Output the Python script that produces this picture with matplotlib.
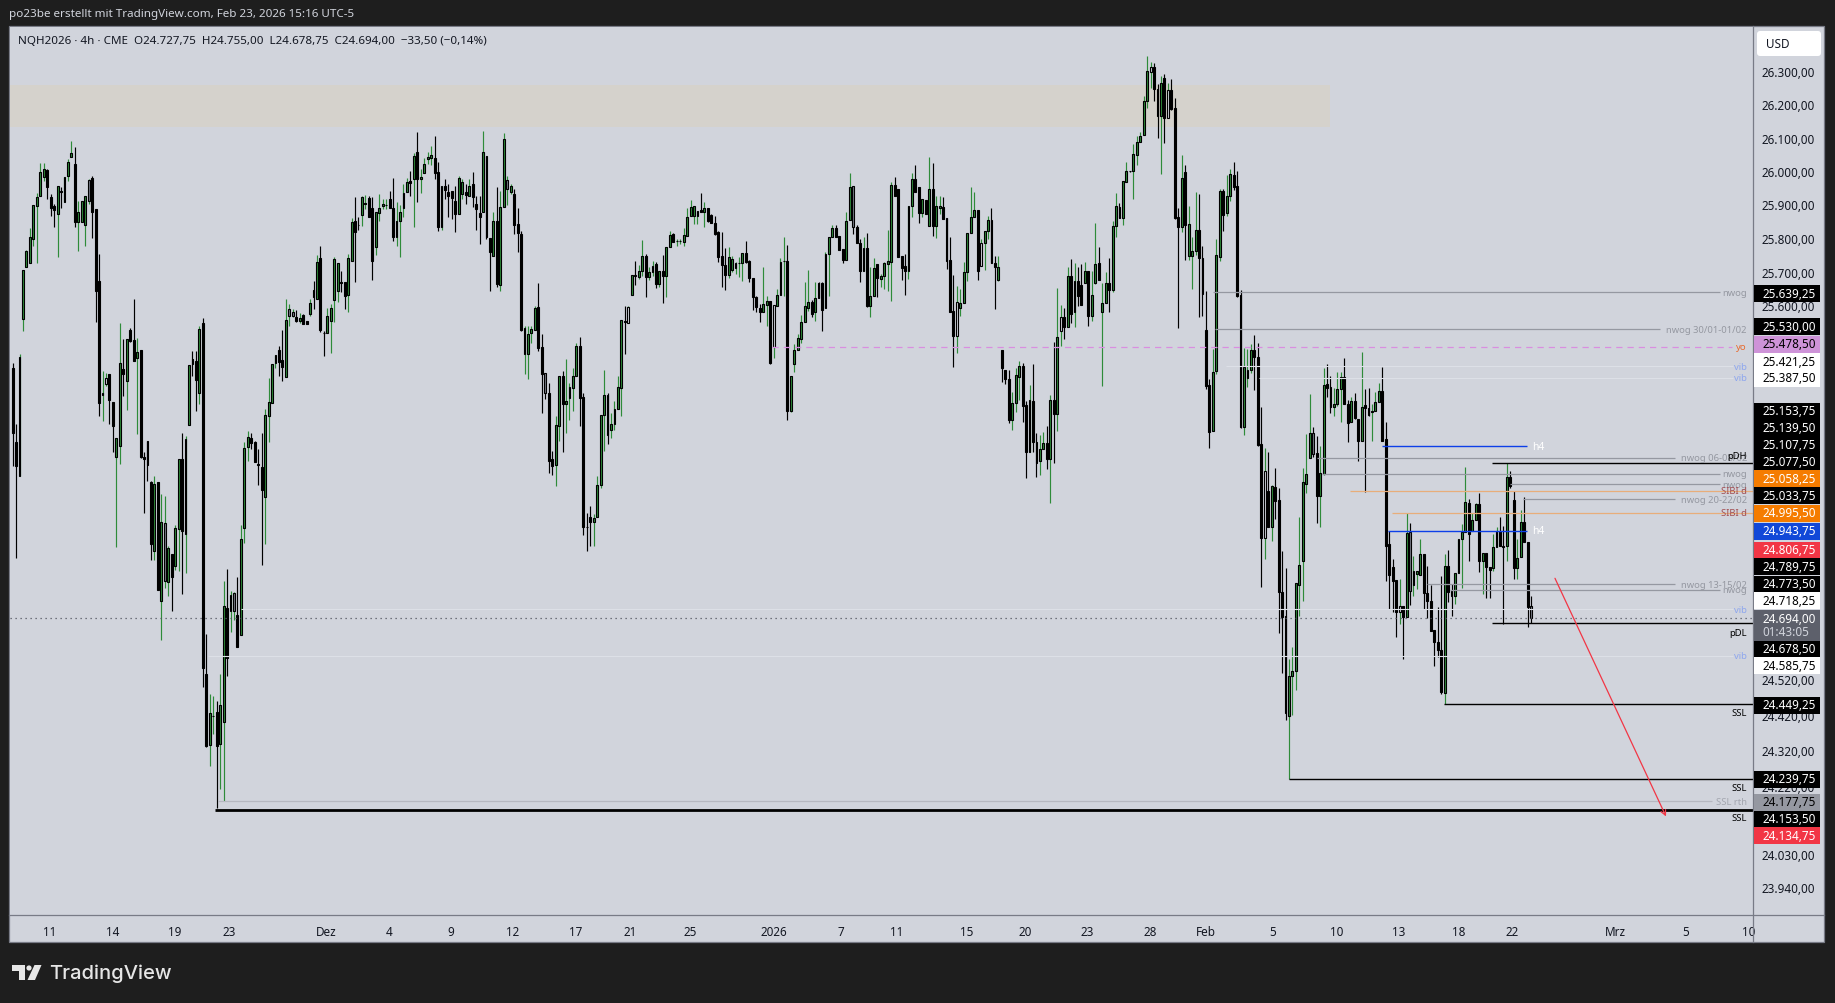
import numpy as np
import matplotlib
matplotlib.use("Agg")
import matplotlib.pyplot as plt
from matplotlib.patches import Rectangle, FancyBboxPatch, Polygon, Circle
from matplotlib.collections import LineCollection
from matplotlib.ticker import NullLocator, FixedLocator, FixedFormatter

plt.rcParams['font.family'] = ['Noto Sans', 'DejaVu Sans']

# ---------- candle data (4h NQH2026) ----------
body_high = [
25416,25201,25448,25705,25762,25803,25899,25923,25997,26006,
26003,25923,25896,25955,25940,25982,26027,26054,26021,25878,
25911,25925,25973,25979,25887,25672,25343,25387,25399,25317,
25210,25431,25413,25501,25528,25498,25463,25469,25155,25204,
25085,25079,25085,24969,24966,24894,24877,24952,25149,25149,
25207,25425,25442,25436,25531,25548,24535,24423,24417,24428,
24448,24728,24723,24760,24765,24703,24920,25181,25213,25210,
25199,25135,25126,25277,25317,25428,25454,25469,25439,25557,
25590,25581,25566,25563,25572,25554,25607,25646,25729,25741,
25519,25569,25593,25738,25726,25669,25669,25741,25848,25851,
25839,25923,25903,25920,25890,25878,25890,25902,25899,25917,
25890,25851,25878,25934,25967,25970,26045,26057,25982,26021,
26042,26048,26039,25997,25955,25955,25937,25940,25911,25979,
25967,25937,25955,25961,25902,25875,26057,26045,25800,25851,
25851,25893,26096,25973,25955,25932,25842,25812,25534,25516,
25531,25593,25596,25478,25402,25343,25149,25248,25393,25393,
25320,25361,25393,25481,25481,25332,24955,24984,24981,25076,
25277,25338,25338,25251,25297,25361,25557,25554,25596,25690,
25690,25702,25747,25747,25699,25717,25723,25702,25702,25774,
25809,25812,25791,25791,25809,25863,25893,25896,25881,25884,
25890,25890,25869,25845,25818,25747,25720,25744,25738,25726,
25726,25756,25756,25732,25681,25625,25593,25604,25613,25613,
25601,25631,25729,25732,25732,25393,25469,25504,25551,25599,
25610,25610,25622,25667,25667,25753,25803,25830,25830,25806,
25768,25851,25952,25955,25833,25785,25771,25771,25628,25711,
25723,25687,25726,25732,25958,25958,25946,25747,25717,25896,
25976,25976,25952,25917,25914,25946,25946,25896,25896,25893,
25860,25735,25584,25610,25607,25699,25815,25863,25884,25884,
25785,25821,25854,25854,25726,25714,25469,25410,25384,25314,
25396,25422,25422,25308,25323,25320,25199,25178,25196,25196,
25323,25323,25507,25566,25566,25687,25687,25672,25672,25661,
25702,25702,25631,25723,25726,25607,25667,25667,25836,25896,
25893,25970,26000,26000,26051,26087,26105,26211,26302,26314,
26314,26247,26265,26280,26244,26244,26190,25863,25979,25997,
25842,25762,25824,25824,25741,25528,25367,25404,25750,25940,
25940,25925,25991,25988,25955,25631,25419,25410,25469,25469,
25448,25193,25115,25059,25071,25068,25033,24768,24700,24529,
24543,24794,24846,25085,25108,25227,25227,25167,25111,25367,
25370,25361,25311,25355,25390,25390,25311,25320,25320,25268,
25303,25306,25300,25291,25317,25349,25349,25207,24905,24840,
24803,24728,24728,24937,24940,24828,24828,24877,24877,24765,
24742,24660,24626,24603,24843,24843,24771,24823,24920,24940,
25027,25024,24975,25019,25019,24880,24880,24840,24897,24943,
24943,24900,25097,25097,25033,24866,24969,24969,24911,24727.75]

body_low = [
25227,25129,25100,25560,25714,25726,25797,25896,25925,25982,
25952,25890,25884,25872,25937,25908,25985,26042,25848,25848,
25848,25839,25911,25878,25643,25312,25338,25369,25323,25245,
25155,25187,25399,25378,25495,25436,25445,25155,25149,25132,
24905,24885,24774,24742,24800,24797,24811,24843,24949,24943,
24935,25248,25428,25381,25343,24552,24331,24334,24415,24331,
24336,24400,24581,24714,24714,24612,24646,24952,25184,25196,
25143,25134,25062,25039,25274,25314,25431,25433,25419,25390,
25569,25569,25554,25554,25545,25545,25575,25625,25619,25528,
25517,25519,25554,25616,25643,25667,25628,25631,25732,25818,
25837,25869,25902,25863,25732,25774,25875,25896,25898,25890,
25803,25803,25851,25890,25937,25964,25976,25976,25976,25994,
26036,26039,25994,25833,25833,25943,25925,25920,25872,25872,
25932,25928,25925,25923,25887,25863,25878,25803,25759,25747,
25663,25661,25893,25946,25937,25839,25815,25528,25457,25457,
25519,25528,25475,25399,25343,25146,25129,25132,25245,25311,
25311,25329,25358,25393,25329,24955,24953,24969,24969,24984,
25076,25277,25219,25236,25251,25297,25358,25552,25548,25631,
25687,25684,25702,25684,25684,25699,25663,25663,25687,25687,
25774,25788,25790,25790,25788,25806,25866,25866,25866,25878,
25878,25851,25845,25812,25744,25720,25690,25690,25705,25711,
25724,25726,25729,25681,25625,25596,25581,25581,25601,25431,
25478,25599,25631,25730,25291,25291,25428,25469,25501,25551,
25593,25575,25581,25622,25587,25593,25753,25803,25803,25765,
25735,25735,25854,25833,25785,25702,25702,25599,25599,25628,
25681,25678,25687,25723,25729,25925,25744,25711,25702,25702,
25896,25937,25875,25875,25872,25836,25836,25836,25890,25857,
25732,25581,25510,25510,25593,25607,25699,25815,25863,25702,
25717,25785,25821,25726,25714,25675,25416,25384,25265,25265,
25314,25390,25305,25172,25172,25199,25140,25146,25178,25149,
25149,25280,25280,25525,25537,25537,25575,25581,25628,25601,
25667,25569,25569,25667,25675,25581,25607,25646,25646,25836,
25860,25860,25967,25999,26000,26048,26087,26108,26211,26299,
26247,26166,26166,26160,26160,26187,25860,25833,25833,25839,
25747,25747,25762,25741,25634,25364,25230,25233,25407,25744,
25869,25875,25925,25952,25628,25242,25242,25387,25410,25448,
25190,24923,24923,24955,24955,25030,24768,24697,24423,24415,
24529,24543,24788,24855,25079,25152,25164,25042,25042,25108,
25358,25303,25303,25311,25355,25311,25256,25259,25271,25204,
25204,25300,25277,25288,25291,25317,25204,24900,24817,24800,
24711,24711,24697,24697,24771,24788,24820,24817,24765,24742,
24657,24626,24603,24484,24482,24768,24757,24757,24823,24920,
24940,24935,24943,24975,24855,24855,24840,24831,24837,24897,
24900,24897,24900,25073,24837,24837,24869,24911,24725,24694]

wick_high = [
25431,25251,25457,25705,25765,25830,25899,25934,26024,26024,
26006,25932,25902,25955,25952,25982,26036,26090,26072,25911,
25911,25925,25976,25985,25887,25753,25407,25402,25399,25317,
25210,25548,25501,25501,25534,25619,25504,25469,25170,25204,
25088,25100,25085,25050,25042,24900,24877,24960,25149,25227,
25216,25425,25466,25466,25540,25563,24649,24479,24473,24459,
24535,24800,24834,24771,24768,24811,24960,25201,25233,25225,
25204,25178,25225,25297,25387,25428,25454,25481,25528,25619,
25604,25590,25587,25578,25575,25554,25619,25672,25750,25777,
25525,25593,25604,25744,25726,25702,25669,25753,25860,25923,
25863,25925,25928,25925,25923,25878,25932,25917,25917,25940,
25979,25908,25899,25961,25979,26000,26054,26117,26006,26039,
26057,26075,26105,26027,25955,25976,25961,25940,25955,25985,
25976,25961,25976,25997,25925,25925,26120,26045,25800,25878,
25952,25940,26114,25985,25961,25946,25890,25821,25540,25540,
25540,25599,25667,25516,25402,25372,25175,25274,25393,25407,
25442,25372,25416,25489,25507,25343,24995,25013,24992,25100,
25277,25410,25343,25285,25320,25393,25557,25599,25599,25690,
25732,25720,25794,25753,25714,25732,25729,25702,25750,25774,
25821,25815,25797,25797,25830,25890,25914,25896,25881,25934,
25908,25890,25872,25866,25821,25818,25771,25774,25747,25729,
25744,25756,25791,25735,25681,25628,25604,25714,25628,25613,
25601,25649,25741,25803,25780,25393,25486,25516,25572,25669,
25705,25616,25669,25669,25669,25759,25803,25839,25839,25806,
25768,25878,25994,25955,25839,25797,25803,25815,25714,25741,
25723,25693,25729,25824,25967,25982,25946,25747,25753,25896,
25994,26018,25952,25917,25914,26042,26024,25925,25925,25923,
25860,25803,25690,25658,25649,25729,25815,25952,25937,25884,
25797,25821,25866,25890,25747,25747,25469,25410,25410,25346,
25416,25436,25431,25320,25367,25428,25225,25219,25230,25245,
25338,25492,25652,25601,25593,25714,25738,25726,25714,25723,
25729,25702,25702,25845,25774,25667,25699,25741,25851,25934,
25905,25970,26027,26000,26081,26105,26117,26226,26347,26329,
26326,26262,26286,26292,26265,26277,26220,25890,26048,26018,
25896,25803,25937,25932,25777,25643,25384,25472,25797,25946,
25946,25988,26006,26027,26000,25646,25475,25472,25486,25513,
25489,25303,25181,25170,25076,25123,25065,24885,24837,24578,
24612,24794,24984,25123,25222,25340,25242,25216,25187,25416,
25428,25393,25358,25404,25404,25445,25323,25332,25343,25268,
25463,25355,25358,25311,25346,25372,25419,25259,24943,24863,
24803,24805,24728,24995,24966,24872,24828,24920,24877,24843,
24788,24660,24725,24814,24875,24888,24791,24823,24920,24963,
25126,25036,24995,25022,25053,24880,24880,24840,24935,24955,
24984,24958,25140,25117,25059,24920,25004,25039,24911,24755]

wick_low = [
25129,24866,25100,25525,25714,25726,25777,25726,25925,25970,
25917,25866,25833,25744,25890,25908,25970,26042,25833,25762,
25848,25777,25902,25800,25551,25274,25262,25364,25251,25170,
24897,25135,25335,25294,25492,25436,25222,25152,24995,25088,
24860,24860,24774,24632,24780,24757,24714,24831,24828,24762,
24822,25248,25392,25291,25311,24499,24328,24276,24364,24157,
24210,24177,24530,24654,24688,24612,24646,24908,25146,25178,
25143,25076,24846,24905,25199,25314,25416,25392,25378,25390,
25540,25566,25551,25548,25545,25545,25569,25590,25619,25522,
25451,25519,25460,25551,25610,25640,25590,25581,25732,25669,
25824,25836,25887,25863,25675,25750,25851,25887,25887,25890,
25791,25777,25744,25863,25937,25925,25833,25908,25934,25994,
26021,26018,25976,25821,25824,25917,25863,25857,25818,25872,
25917,25902,25925,25893,25824,25782,25878,25797,25643,25747,
25655,25643,25893,25899,25932,25812,25759,25525,25399,25384,
25489,25528,25466,25285,25326,25111,25103,25073,25204,25172,
25225,25265,25291,25393,25245,24932,24885,24900,24900,24984,
25065,25175,25193,25210,25236,25297,25274,25457,25548,25631,
25661,25678,25687,25625,25675,25687,25652,25655,25607,25625,
25774,25788,25777,25782,25777,25806,25866,25842,25842,25878,
25833,25848,25845,25809,25729,25655,25646,25681,25699,25693,
25684,25672,25726,25669,25587,25581,25551,25581,25540,25428,
25445,25599,25631,25628,25265,25288,25404,25469,25489,25551,
25584,25566,25554,25622,25525,25593,25628,25803,25803,25765,
25726,25735,25854,25812,25785,25669,25702,25596,25566,25628,
25625,25655,25649,25643,25613,25925,25744,25675,25631,25678,
25863,25937,25845,25863,25872,25836,25806,25800,25872,25857,
25708,25581,25419,25460,25569,25607,25672,25815,25863,25675,
25717,25705,25797,25726,25590,25672,25375,25369,25256,25236,
25288,25323,25259,25094,25172,25170,25097,25103,25178,25120,
25024,25140,25233,25481,25501,25537,25548,25537,25599,25601,
25667,25540,25554,25664,25675,25364,25607,25581,25640,25803,
25860,25839,25967,25997,25917,26018,26087,26108,26190,26250,
26211,26099,25991,26084,26160,26184,25857,25534,25818,25735,
25735,25649,25750,25566,25569,25355,25181,25233,25399,25732,
25821,25866,25911,25943,25625,25239,25219,25361,25402,25352,
25187,24783,24863,24955,24914,24978,24652,24538,24406,24240,
24420,24490,24700,24742,25053,25152,25155,24966,24955,25103,
25332,25285,25274,25305,25259,25311,25199,25259,25268,25146,
25204,25056,25274,25204,25291,25317,25204,24800,24720,24711,
24640,24677,24578,24697,24731,24757,24777,24817,24720,24694,
24657,24558,24583,24479,24449,24740,24700,24734,24823,24780,
24940,24855,24943,24975,24826,24762,24751,24751,24828,24897,
24900,24677,24857,25065,24805,24805,24869,24911,24668,24678.75]

direction = (
"DDUUUUUUUU" "DDDUDUUUDU" "UUUDDDUUDD" "UUDUDDUDDD" "DUDUUUDUUD"
"UUDDUDDUUD" "UUDUUDUUUD" "DDDUUUUDDU" "UUDUDDUDUD" "DUUUUDDUUD"
"DUUDDUUUUD" "DUUUUDUDUU" "UUDDUDDDDU" "UDUDDDUDDU" "DUUUUDDDUU"
"UUDDDDDUUD" "UUUUDDDDUU" "UUDUUUUDUU" "DUUDUUDUDU" "UDUUUUUUUD"
"UDDDDDDUUU" "UUDDDDDUUD" "UUUUDUUUUU" "UDUDDUUUDD" "DUUDDDUDUU"
"DUUUUDDDDU" "UDDUDUDUUD" "DDDUUUUUUD" "UUUDDUDDDU" "UUDDUDDUUD"
"UDUUDUDUDD" "UDUUDUUDUU" "DUUDUUUUUU" "DDUDUDDDUD" "UUUDDDDUUU"
"DUUDDDUUUD" "DDUDUDDDDU" "UUUUUUDDUU" "DDUUUDDUDD" "UDDUUUDDDD"
"DUDUDUUUDD" "DDDDUDDUUU" "UDUUDUDDUU" "DDUDDUUDDD")

gray_bars = [22, 44, 64, 80, 81, 143, 148, 154, 172, 243, 344, 376, 404, 439]
hollow_bars = [27, 63, 178, 220, 273, 280, 303, 329, 334, 362, 401]

# ---------- price axis ----------
price_ticks = [26300, 26200, 26100, 26000, 25900, 25800, 25700, 25600,
               24520, 24420, 24320, 24220, 24030, 23940]

# ---------- time axis ----------
time_labels = ["11", "14", "19", "23", "Dez", "4", "9", "12", "17", "21", "25", "2026",
               "7", "11", "15", "20", "23", "28", "Feb", "5", "10", "13", "18", "22",
               "Mrz", "5", "10"]
time_bars = [10.7, 28.9, 46.8, 62.7, 90.8, 108.8, 126.7, 144.6, 162.8, 178.4, 195.8, 220.0,
             239.4, 255.6, 275.7, 292.6, 310.8, 328.8, 345.0, 364.3, 382.8, 400.7, 418.0, 433.6,
             463.4, 483.7, 501.9]

# ---------- drawn levels ----------
level_price = [25639.25, 25530.0, 25478.5, 25421.25, 25387.5, 25153.75, 25139.5, 25187.0,
               25107.75, 25077.5, 25058.25, 25033.75, 24995.5, 24943.75, 24789.75, 24773.5,
               24718.25, 24585.75, 24678.5, 24449.25, 24239.75, 24177.75, 24153.5]
level_text = ["nwog", "nwog 30/01-01/02", "yo", "vib", "vib", "nwog 06-08/02", "pDH", "h4",
              "nwog", "nwog", "SIBI d", "nwog 20-22/02", "SIBI d", "h4", "nwog 13-15/02", "nwog",
              "vib", "vib", "pDL", "SSL", "SSL", "SSL rth", "SSL"]
level_kind = ["nwog", "nwog", "yo", "vib", "vib", "nwog", "liq", "h4",
              "nwog", "nwog", "sibi", "nwog", "sibi", "h4", "nwog", "nwog",
              "vib", "vib", "liq", "liq", "liq", "rth", "liq2"]
level_from = [347.0, 347.6, 219.5, 350.8, 360.3, 377.0, 427.7, 395.9,
              378.5, 432.9, 386.6, 436.7, 398.8, 397.6, 408.9, 415.6,
              66.0, 56.5, 427.7, 413.7, 369.0, 59.4, 58.5]
level_to = [493.6, 476.3, 497.0, 497.3, 497.3, 480.6, 503.2, 437.8,
            493.6, 493.6, 503.2, 480.6, 503.2, 437.8, 480.6, 493.6,
            497.3, 497.3, 503.2, 503.2, 503.2, 491.3, 503.2]
text_shift = [0, 0, 0, 0, 0, 0, 7, 0, 0, 0, 0, 0, 0, 0, 0, 0, 0, 0, -9, -8, -9, 0, -8]

zone_top, zone_bottom, zone_end = 26259, 26133, 380.8
last_price = 24694.0
arrow_from, arrow_to = (445.9, 24806.75), (478.0, 24134.75)

# ---------- price tags ----------
tag_value = [25639.25, 25530.00, 25478.50, 25421.25, 25387.50, 25153.75, 25139.50, 25107.75,
             25077.50, 25058.25, 25033.75, 24995.50, 24943.75, 24806.75, 24789.75, 24773.50,
             24718.25, 24678.50, 24585.75, 24449.25, 24239.75, 24177.75, 24153.50, 24134.75]
tag_y = [294.3, 327.7, 345, 362.3, 379, 412, 429, 445.7,
         462.7, 479.7, 496.7, 514, 532, 551, 567.3, 585,
         601.7, 649.7, 666.7, 706, 780, 803, 820, 836.7]
tag_style = ["k", "k", "p", "w", "w", "k", "k", "k",
             "k", "o", "k", "o", "b", "r", "k", "k",
             "w", "k", "w", "k", "k", "g", "k", "r"]

BG = "#D1D4DC"
DARK = "#1E1E1E"
GREEN = "#2E8B39"
W, H = 1835, 1004
PLOT_L, PLOT_R, PLOT_T, PLOT_B = 10, 1753, 28, 916
FS = 8.45
FS_LABEL = 6.8


def de(v):
    s = f"{v:,.2f}"
    return s.replace(",", "#").replace(".", ",").replace("#", ".")


fig = plt.figure(figsize=(W / 100, H / 100), dpi=100, facecolor=DARK)

# background panel
bg = fig.add_axes([0, 0, 1, 1], zorder=0)
bg.set_xlim(0, W); bg.set_ylim(H, 0); bg.axis("off")
bg.add_patch(Rectangle((9, 27), 1815, 916, fc=BG, ec="#787B86", lw=0.9))

# main chart
ax = fig.add_axes([PLOT_L / W, 1 - PLOT_B / H, (PLOT_R - PLOT_L) / W, (PLOT_B - PLOT_T) / H], zorder=1)
ax.set_facecolor(BG)
ax.set_yscale("log")
ax.set_ylim(23862, 26435)
ax.set_xlim(-0.75, 503.15)
for s in ax.spines.values():
    s.set_visible(False)

n = len(body_high)
x = np.arange(n)
bh, bl = np.array(body_high, float), np.array(body_low, float)
wh, wl = np.array(wick_high, float), np.array(wick_low, float)
up = np.array([c == "U" for c in direction])

ax.add_patch(Rectangle((-0.75, zone_bottom), zone_end + 0.75, zone_top - zone_bottom,
                       fc="#D5D2CC", ec="none", zorder=1))

wick_colors = [GREEN if u else "black" for u in up]
ax.add_collection(LineCollection([[(i, wl[i]), (i, wh[i])] for i in range(n)],
                                 colors=wick_colors, linewidths=0.85, zorder=2))
face = [GREEN if u else "black" for u in up]
for i in gray_bars:
    face[i] = "#787B86"
for i in hollow_bars:
    face[i] = BG
ax.bar(x, np.maximum(bh - bl, 0.5), bottom=bl, width=0.55, color=face, edgecolor="black",
       linewidth=0.8, zorder=3)

# levels
styles = {
    "nwog": dict(color="#9598A1", lw=0.9, ls="-"),
    "yo": dict(color="#D98EE0", lw=0.9, ls=(0, (5, 4))),
    "vib": dict(color="#DDE0E7", lw=0.8, ls="-"),
    "liq": dict(color="black", lw=1.0, ls="-"),
    "liq2": dict(color="black", lw=2.0, ls="-"),
    "h4": dict(color="#0D3FE8", lw=1.0, ls="-"),
    "sibi": dict(color="#E8AD7A", lw=0.9, ls="-"),
    "rth": dict(color="#B6B8C0", lw=0.9, ls="-"),
}
text_colors = {"nwog": "#9598A1", "yo": "#E8692C", "vib": "#8DA6EE", "liq": "black", "liq2": "black",
               "h4": "white", "sibi": "#A24C50", "rth": "#A3A6AF"}
for price, txt, kind, a, b, dy in zip(level_price, level_text, level_kind, level_from, level_to, text_shift):
    ax.plot([a, b], [price, price], zorder=4, solid_capstyle="butt", **styles[kind])
    if kind == "h4":
        ax.annotate(txt, xy=(439.4, price), xytext=(0, 0), textcoords="offset pixels", ha="left", va="center",
                    color="white", fontsize=FS_LABEL + 0.6, fontweight="bold", zorder=6)
    else:
        ax.annotate(txt, xy=(501.4, price), xytext=(0, dy), textcoords="offset pixels", ha="right", va="center",
                    color=text_colors[kind], fontsize=FS_LABEL, zorder=6)

ax.plot([-0.75, 503.15], [last_price, last_price], color="#50535E", lw=0.9, ls=(0, (1, 3)), zorder=4)
ax.annotate("", xy=arrow_to, xytext=arrow_from,
            arrowprops=dict(arrowstyle="->", color="#F23645", lw=0.9, shrinkA=0, shrinkB=0, mutation_scale=9),
            zorder=5)

# axes ticks
ax.yaxis.tick_right()
ax.yaxis.set_major_locator(FixedLocator(price_ticks))
ax.yaxis.set_major_formatter(FixedFormatter([de(v) for v in price_ticks]))
ax.yaxis.set_minor_locator(NullLocator())
ax.tick_params(axis="y", which="major", length=0, pad=6, labelsize=FS, labelcolor="#131722")
ax.set_xticks(time_bars)
ax.set_xticklabels(time_labels)
ax.tick_params(axis="x", length=0, pad=7, labelsize=FS, labelcolor="#131722")
for lab in ax.get_xticklabels():
    if lab.get_text() == "2026":
        lab.set_fontweight("bold")

# overlay: tags and page furniture
ov = fig.add_axes([0, 0, 1, 1], zorder=2)
ov.set_xlim(0, W); ov.set_ylim(H, 0); ov.axis("off"); ov.patch.set_alpha(0)
ov.plot([1753, 1753], [27, 943], color="#787B86", lw=0.9)
ov.plot([9, 1824], [916, 916], color="#787B86", lw=0.9)

tag_colors = {"k": ("#000000", "white"), "w": ("#FFFFFF", "black"), "p": ("#CE93D8", "black"),
              "o": ("#F57C00", "white"), "b": ("#1148D8", "white"), "r": ("#F23645", "white"),
              "g": ("#9598A1", "black")}
for v, yy, st in zip(tag_value, tag_y, tag_style):
    fc, tc = tag_colors[st]
    ov.add_patch(Rectangle((1753.5, yy - 8.5), 66.5, 17, fc=fc, ec="none", zorder=3))
    ov.text(1762, yy, de(v), color=tc, fontsize=FS, ha="left", va="center", zorder=4)
ov.add_patch(Rectangle((1753.5, 611), 66.5, 30.5, fc="#5D606B", ec="none", zorder=3))
ov.text(1762, 619.3, de(last_price), color="white", fontsize=FS, ha="left", va="center", zorder=4)
ov.text(1762, 632.5, "01:43:05", color="#D1D4DC", fontsize=FS, ha="left", va="center", zorder=4)

ov.add_patch(FancyBboxPatch((1759, 34), 60, 21, boxstyle="round,pad=2,rounding_size=3", fc="white", ec="none", zorder=3))
ov.text(1766, 44.5, "USD", color="#131722", fontsize=FS, ha="left", va="center", zorder=4)

ov.text(9, 15, "po23be erstellt mit TradingView.com, Feb 23, 2026 15:16 UTC-5",
        color="#D1D4DC", fontsize=8.4, ha="left", va="center")
ov.text(18, 42, "NQH2026 · 4h · CME  O24.727,75  H24.755,00  L24.678,75  C24.694,00  −33,50 (−0,14%)",
        color="#131722", fontsize=8.35, ha="left", va="center")

# TradingView mark
c = "#E6E6E6"
ov.add_patch(Polygon([(12, 966), (25, 966), (25, 981), (19, 981), (19, 971.5), (12, 971.5)], fc=c, ec="none"))
ov.add_patch(Circle((29, 969), 2.6, fc=c, ec="none"))
ov.add_patch(Polygon([(34.5, 966), (41.5, 966), (35, 981), (27.5, 981)], fc=c, ec="none"))
ov.text(49, 973.5, "TradingView", color=c, fontsize=14.5, fontweight="medium", ha="left", va="center",
        family=["Inter", "DejaVu Sans"])

fig.savefig("out.png", dpi=100, facecolor=DARK)
